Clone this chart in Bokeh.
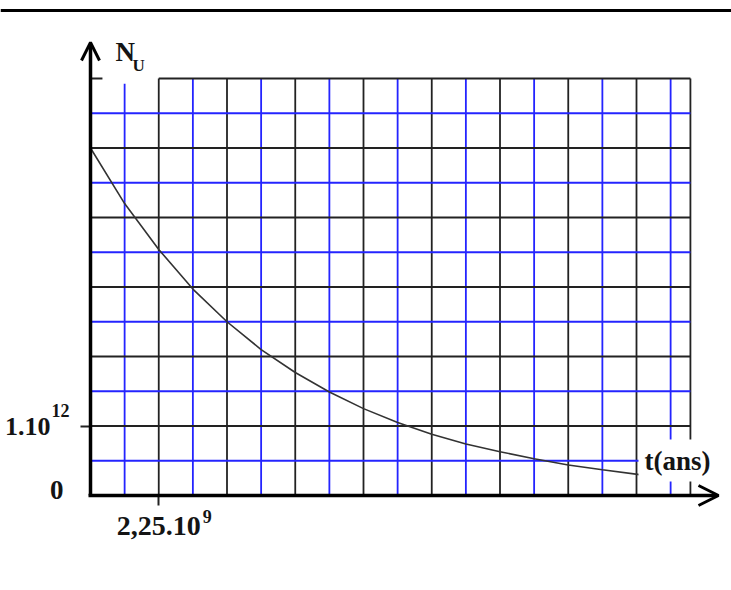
from bokeh.plotting import figure
from bokeh.models import Range1d, FixedTicker, Arrow, OpenHead, Label
from bokeh.embed import file_html
from bokeh.resources import INLINE

# ---------------- data ----------------
t_gyr = [0, 1.125, 2.25, 3.375, 4.5, 5.625, 6.75, 7.875, 9.0, 10.125,
         11.25, 12.375, 13.5, 14.625, 15.75, 16.875, 18.1]           # 1e9 years
n_e12 = [5.0, 4.2, 3.54, 2.97, 2.5, 2.1, 1.77, 1.49, 1.25, 1.05,
         0.88, 0.74, 0.63, 0.53, 0.44, 0.37, 0.30]                   # 1e12 nuclei
x_ticks = [2250000000]
x_tick_labels = ["2,25.10"]
x_tick_exp = "9"
y_ticks = [1000000000000]
y_tick_labels = ["1.10"]
y_tick_exp = "12"
zero_label = "0"
x_title = "t(ans)"
y_title = "N"
y_title_sub = "U"

t = [v * 1e9 for v in t_gyr]
n = [v * 1e12 for v in n_e12]

# ---------------- layout ----------------
W, H = 731, 590
COL = x_ticks[0] / 2      # one grid column
ROW = y_ticks[0] / 2      # one grid row
PX_COL = 34.125
PX_ROW = 34.75
OX, OY = 90, 495          # origin in page pixels
N_ROWS = 12
EDGE_COLS = 17.58

def xpx(px):
    return (px - OX) / PX_COL * COL

def ypx(py):
    return (OY - py) / PX_ROW * ROW

p = figure(width=W, height=H,
           x_range=Range1d(xpx(0), xpx(W)),
           y_range=Range1d(ypx(H), ypx(0)),
           output_backend="svg", toolbar_location=None,
           min_border_left=0, min_border_right=0,
           min_border_top=0, min_border_bottom=0)
p.outline_line_color = None
p.xgrid.visible = False
p.ygrid.visible = False
p.background_fill_color = "white"
p.border_fill_color = "white"

BLUE = "#2424ff"
BLACK = "#222222"
FONT = "Liberation Serif"
TXT = "#141414"

# grid: vertical lines
x_edge = EDGE_COLS * COL
y_top = N_ROWS * ROW
vx0, vy0, vx1, vy1, vc = [], [], [], [], []
for k in range(1, 18):
    vx0.append(k * COL); vx1.append(k * COL)
    vy0.append(0)
    vy1.append(11.85 * ROW if k == 1 else y_top)
    vc.append(BLUE if k % 2 else BLACK)
vx0.append(x_edge); vx1.append(x_edge); vy0.append(0); vy1.append(y_top); vc.append(BLACK)
# horizontal lines
for r in range(1, N_ROWS):
    vx0.append(0); vx1.append(x_edge)
    vy0.append(r * ROW); vy1.append(r * ROW)
    vc.append(BLUE if r % 2 else BLACK)
# top edge with a gap for the title
vx0 += [0, 2 * COL]; vx1 += [0.35 * COL, x_edge]
vy0 += [y_top, y_top]; vy1 += [y_top, y_top]; vc += [BLACK, BLACK]
p.segment(x0=vx0, y0=vy0, x1=vx1, y1=vy1, line_color=vc, line_width=1.8)

# decay curve
p.line(t, n, line_color="#333333", line_width=1.6)

# axes (fixed at the origin)
ya = p.left[0]
xa = p.below[0]
ya.fixed_location = 0
xa.fixed_location = 0
ya.ticker = FixedTicker(ticks=y_ticks)
xa.ticker = FixedTicker(ticks=x_ticks)
ya.major_label_overrides = {y_ticks[0]: y_tick_labels[0]}
xa.major_label_overrides = {x_ticks[0]: x_tick_labels[0]}
for ax in (xa, ya):
    ax.axis_line_color = None
    ax.major_tick_in = 0
    ax.major_tick_out = 10
    ax.major_tick_line_width = 2
    ax.major_tick_line_color = BLACK
    ax.minor_tick_out = 0
    ax.minor_tick_in = 0
    ax.major_label_text_font = FONT
    ax.major_label_text_font_style = "bold"
    ax.major_label_text_color = TXT
ya.major_label_text_font_size = "26px"
xa.major_label_text_font_size = "28px"
ya.major_label_standoff = 30
xa.major_label_standoff = 11

def lab(x, y, text, dx, dy, size, align="left", **kw):
    p.add_layout(Label(x=x, y=y, text=text, x_offset=dx, y_offset=dy,
                       text_font=FONT, text_font_style="bold",
                       text_font_size=size, text_color=TXT,
                       text_align=align, text_baseline="alphabetic", **kw))

# x title with its white box (drawn before the arrow so the arrow stays on top)
lab(xpx(718), 0, x_title, -80, 35, "27px",
    background_fill_color="white",
    padding=dict(top=6, right=8, bottom=6, left=6))

# axis arrows
p.add_layout(Arrow(x_start=0, y_start=0, x_end=0, y_end=ypx(42),
                   line_width=3.5, line_color="black",
                   end=OpenHead(size=18, line_width=3, line_color="black")))
p.add_layout(Arrow(x_start=xpx(88), y_start=0, x_end=xpx(718), y_end=0,
                   line_width=3.5, line_color="black",
                   end=OpenHead(size=20, line_width=3, line_color="black")))

# top page rule
p.add_layout(Arrow(x_start=xpx(0), y_start=ypx(10), x_end=xpx(W), y_end=ypx(10),
                   line_width=3, line_color="black", start=None, end=None))

lab(0, y_ticks[0], y_tick_exp, -39, 16, "18px")
lab(0, 0, zero_label, -27, 6, "27px", align="right")
lab(x_ticks[0], 0, x_tick_exp, 44, -21, "18px")
lab(0, ypx(42), y_title, 25, -9, "27px")
lab(0, ypx(42), y_title_sub, 42, -23, "17px")

open("out.html", "w").write(file_html(p, INLINE))
